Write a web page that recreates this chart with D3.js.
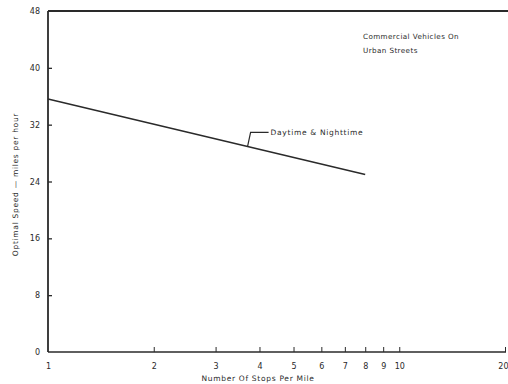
<!DOCTYPE html>
<html>
<head>
<meta charset="utf-8">
<script src="https://cdn.jsdelivr.net/npm/d3@7"></script>
<style>
  html, body { margin: 0; padding: 0; background: #fff; }
  svg { display: block; font-family: "DejaVu Sans", sans-serif; }
</style>
</head>
<body>
<svg id="chart" width="508" height="384"></svg>
<script>
// Optimal speed vs. stops per mile, commercial vehicles on urban streets
const stops = [1, 8];
const speeds = [35.6, 25.0];
const xTicks = [1, 2, 3, 4, 5, 6, 7, 8, 9, 10, 20];
const yTicks = [0, 8, 16, 24, 32, 40, 48];
const seriesLabel = "Daytime & Nighttime";
const labelAt = 3.7;

const svg = d3.select("#chart");
const ink = "#2a2a2a";

const x = d3.scaleLog().domain([1, 20]).range([48, 505]);
const y = d3.scaleLinear().domain([0, 48]).range([352, 11]);

// frame: left axis, top border, bottom axis
svg.append("line").attr("x1", x(1)).attr("x2", 508).attr("y1", y(48)).attr("y2", y(48))
  .attr("stroke", ink).attr("stroke-width", 1.8);
svg.append("line").attr("x1", x(1)).attr("x2", x(1)).attr("y1", y(48)).attr("y2", y(0))
  .attr("stroke", ink).attr("stroke-width", 1.8);
svg.append("line").attr("x1", x(1)).attr("x2", 506).attr("y1", y(0)).attr("y2", y(0))
  .attr("stroke", ink).attr("stroke-width", 1.6);

// y ticks (inward) and labels
const yAxis = d3.axisLeft(y).tickValues(yTicks).tickSize(-4).tickPadding(8);
const gy = svg.append("g").attr("transform", `translate(${x(1)},0)`).call(yAxis);
gy.select(".domain").remove();
gy.selectAll(".tick line").attr("stroke", ink).attr("stroke-width", 1.3)
  .filter(d => d === 0 || d === 48).remove();
gy.selectAll(".tick text").attr("fill", ink).attr("font-size", 8)
  .attr("font-family", "DejaVu Sans, sans-serif");

// x ticks (inward) and labels
const xAxis = d3.axisBottom(x).tickValues(xTicks).tickFormat(d3.format("d")).tickSize(-5).tickPadding(11);
const gx = svg.append("g").attr("transform", `translate(0,${y(0)})`).call(xAxis);
gx.select(".domain").remove();
gx.selectAll(".tick line").attr("stroke", ink).attr("stroke-width", 1)
  .filter(d => d === 1).remove();
gx.selectAll(".tick text").attr("fill", ink).attr("font-size", 8)
  .attr("font-family", "DejaVu Sans, sans-serif");
// keep the last label inside the page edge
gx.selectAll(".tick text").filter(d => d === 20).attr("text-anchor", "end").attr("dx", 3);

// axis titles
svg.append("text").attr("x", 258).attr("y", 381).attr("text-anchor", "middle")
  .attr("font-size", 7.5).attr("fill", ink).attr("letter-spacing", 0.7)
  .text("Number Of Stops Per Mile");
svg.append("text").attr("transform", `translate(18,${(y(0) + y(48)) / 2 + 3}) rotate(-90)`)
  .attr("text-anchor", "middle").attr("font-size", 7.5).attr("fill", ink).attr("letter-spacing", 0.7)
  .text("Optimal Speed \u2014 miles per hour");

// series line
const pts = stops.map((s, i) => [s, speeds[i]]);
svg.append("path").datum(pts)
  .attr("d", d3.line().x(d => x(d[0])).y(d => y(d[1])))
  .attr("fill", "none").attr("stroke", ink).attr("stroke-width", 1.5);

// series label with leader
const t = (Math.log(labelAt) - Math.log(stops[0])) / (Math.log(stops[1]) - Math.log(stops[0]));
const vAt = speeds[0] + (speeds[1] - speeds[0]) * t;
const lx = x(labelAt), ly = y(vAt);
svg.append("path")
  .attr("d", `M${lx},${ly} L${lx + 3},${ly - 14} L${lx + 21},${ly - 14}`)
  .attr("fill", "none").attr("stroke", ink).attr("stroke-width", 1.2);
svg.append("text").attr("x", lx + 23).attr("y", ly - 11).attr("font-size", 7.5)
  .attr("fill", ink).attr("letter-spacing", 0.7).text(seriesLabel);

// chart note
const note = svg.append("text").attr("x", 363).attr("font-size", 7.2).attr("fill", ink)
  .attr("letter-spacing", 0.4);
note.append("tspan").attr("x", 363).attr("y", 39).text("Commercial Vehicles On");
note.append("tspan").attr("x", 363).attr("y", 53).text("Urban Streets");
</script>
</body>
</html>
